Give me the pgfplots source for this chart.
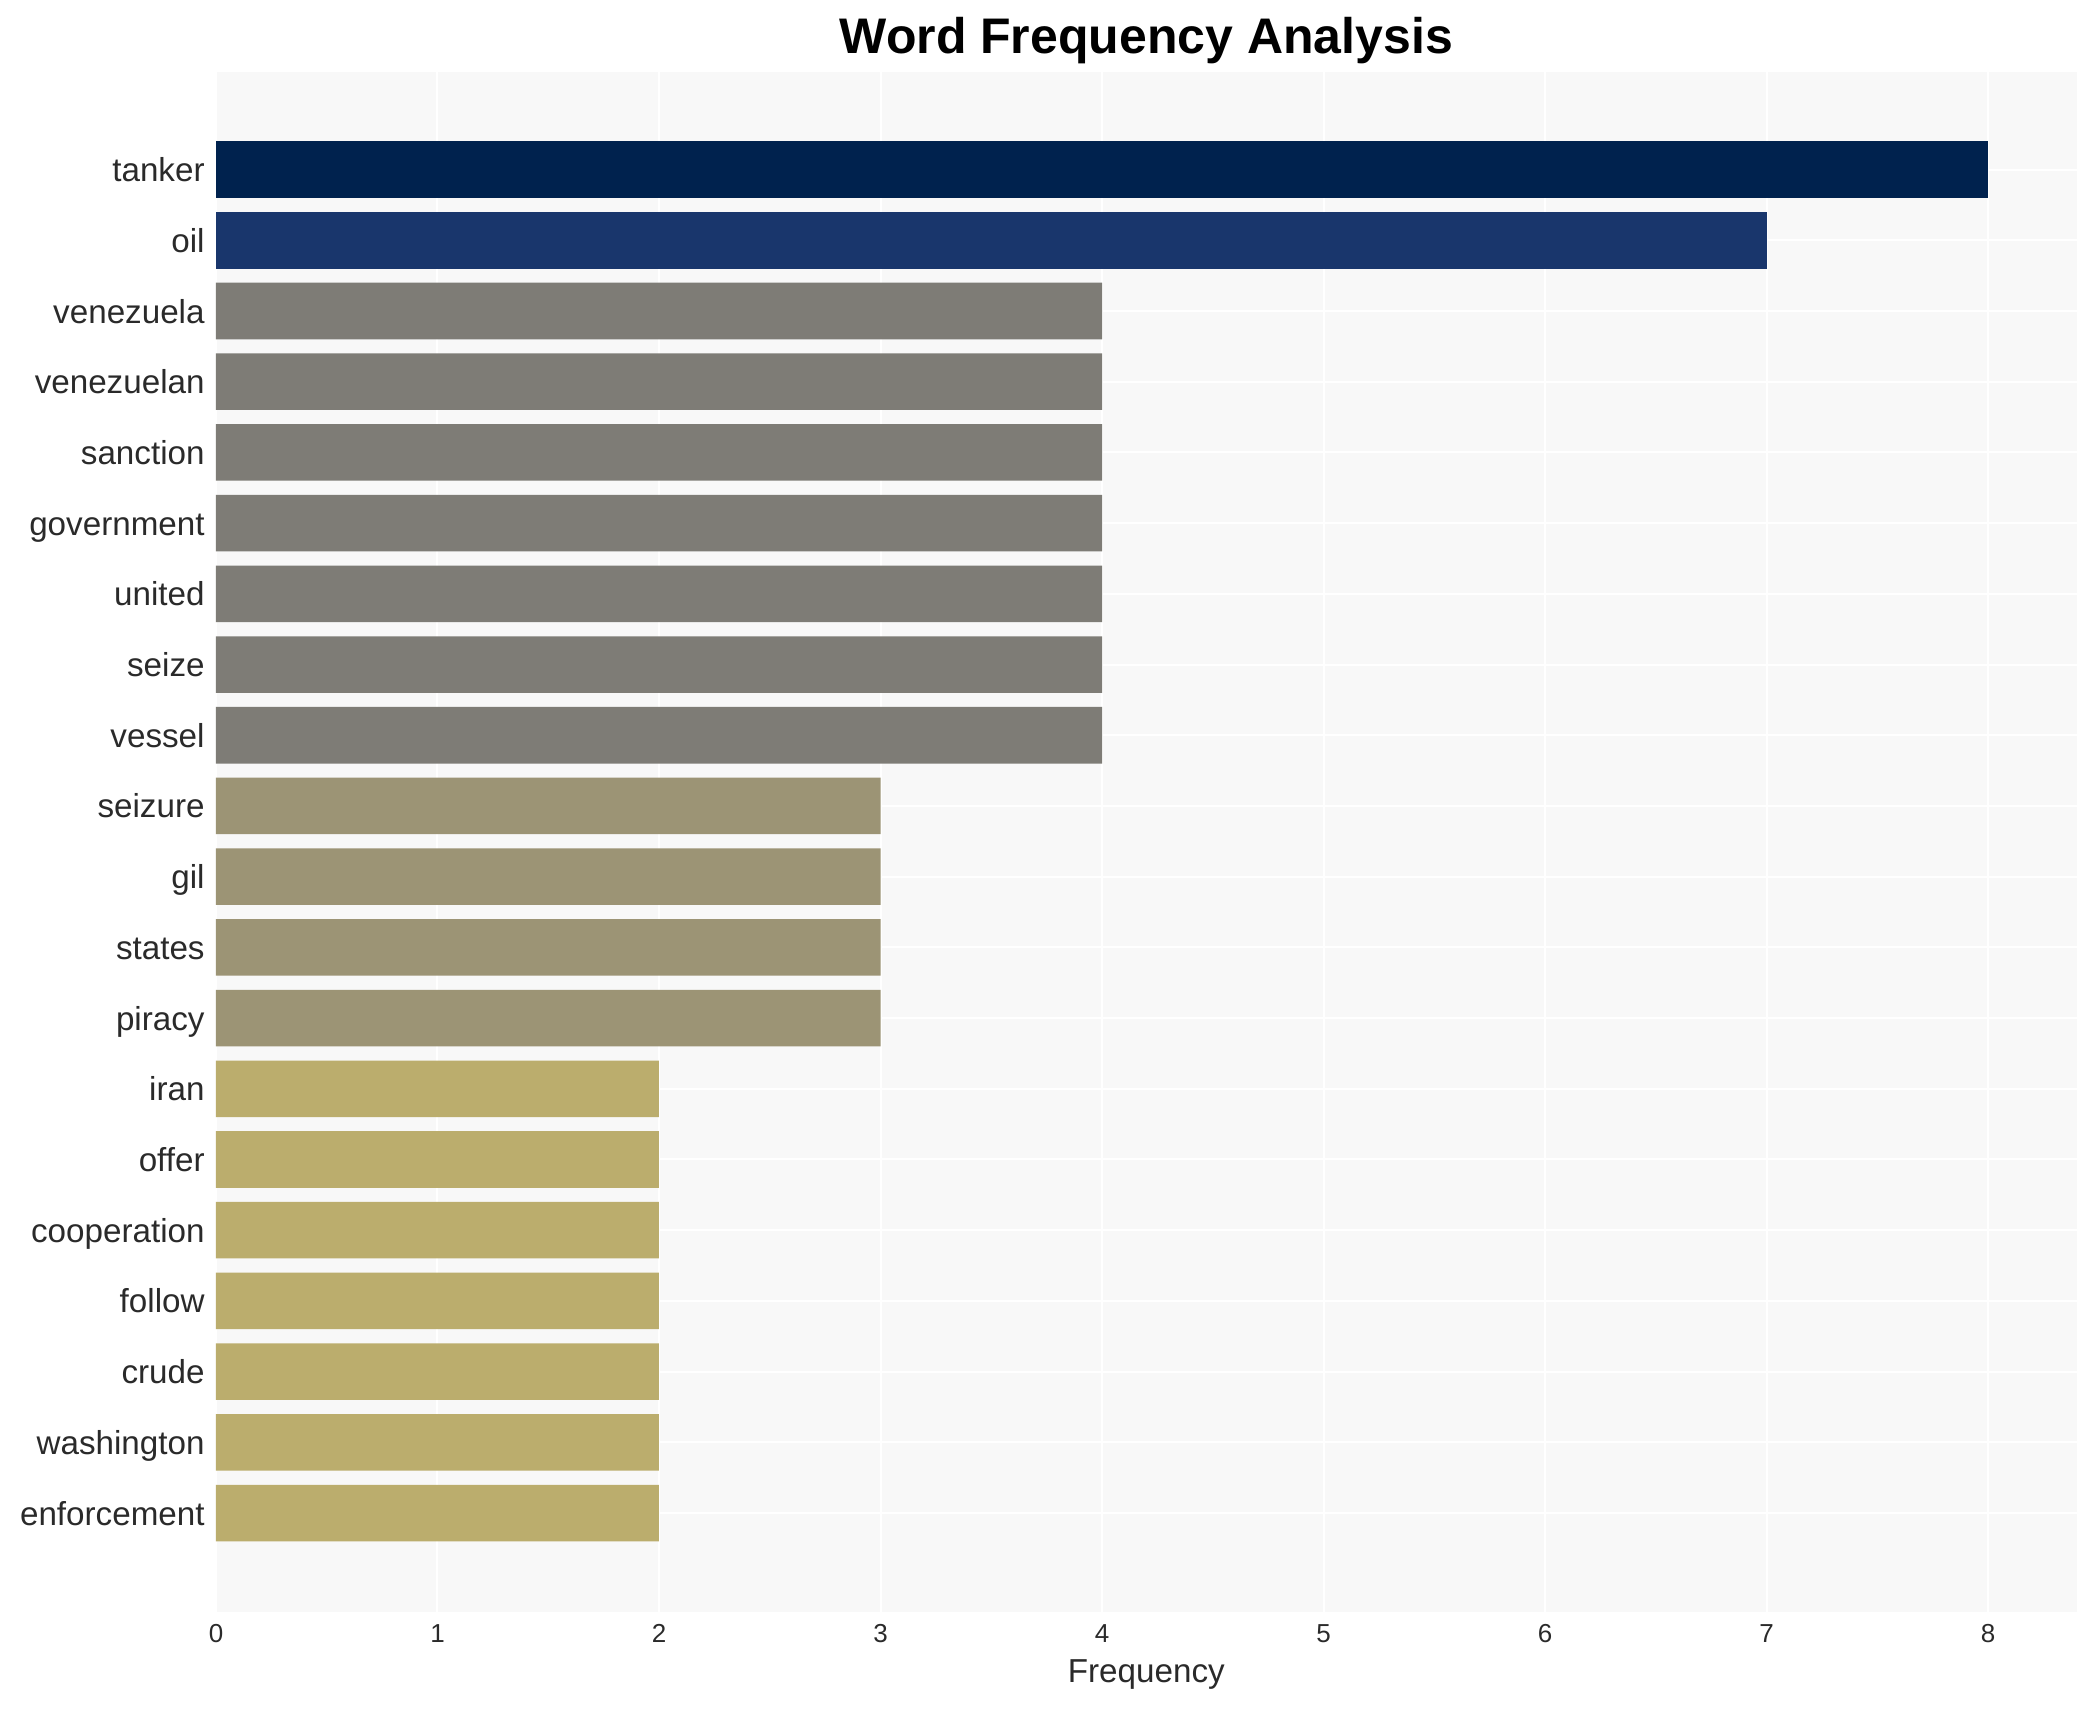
\documentclass[border=0pt]{standalone}
\usepackage{fontspec}
\setmainfont{Liberation Sans}
\usepackage{pgfplots}
\pgfplotsset{compat=1.18}

\definecolor{bgpanel}{RGB}{248,248,248}
\definecolor{txt}{RGB}{42,42,42}
\definecolor{cEight}{RGB}{0,34,78}
\definecolor{cSeven}{RGB}{25,54,108}
\definecolor{cFour}{RGB}{126,124,118}
\definecolor{cThree}{RGB}{156,148,117}
\definecolor{cTwo}{RGB}{187,173,109}

\begin{document}
\begin{tikzpicture}
\path[use as bounding box] (-108pt,-49pt) rectangle (939.5pt,806pt);
\begin{axis}[
    at={(0pt,0pt)}, anchor=south west,
    scale only axis, width=930.3pt, height=770pt,
    xbar, bar width=0.8,
    xmin=0, xmax=8.4,
    ymin=-1.38, ymax=20.40, y dir=reverse,
    axis background/.style={fill=bgpanel},
    axis line style={draw=none},
    major tick length=0pt,
    grid=major,
    major grid style={white, line width=1pt},
    xtick={0,1,...,8},
    ytick={0,1,...,19},
    yticklabels={tanker, oil, venezuela, venezuelan, sanction, government, united, seize, vessel, seizure, gil, states, piracy, iran, offer, cooperation, follow, crude, washington, enforcement},
    /pgf/number format/assume math mode=true,
    xticklabel style={font=\fontsize{13}{15}\selectfont, text=txt, anchor=base, yshift=-15pt, inner sep=0pt},
    yticklabel style={font=\fontsize{16.6}{19}\selectfont, text=txt, anchor=base east, xshift=-5.5pt, yshift=-6pt, inner sep=0pt},
    xlabel={Frequency},
    xlabel style={font=\fontsize{16.6}{19}\selectfont, text=txt, at={(axis description cs:0.5,0)}, anchor=base, yshift=-35pt, inner sep=0pt},
    title={Word Frequency Analysis},
    title style={font=\fontsize{25}{29}\selectfont\bfseries, at={(axis description cs:0.5,1)}, anchor=base, yshift=3.5pt, inner sep=0pt},
]
\addplot[draw=none, fill=cEight, bar shift=0pt] coordinates {(8,0)};
\addplot[draw=none, fill=cSeven, bar shift=0pt] coordinates {(7,1)};
\addplot[draw=none, fill=cFour, bar shift=0pt] coordinates {(4,2) (4,3) (4,4) (4,5) (4,6) (4,7) (4,8)};
\addplot[draw=none, fill=cThree, bar shift=0pt] coordinates {(3,9) (3,10) (3,11) (3,12)};
\addplot[draw=none, fill=cTwo, bar shift=0pt] coordinates {(2,13) (2,14) (2,15) (2,16) (2,17) (2,18) (2,19)};
\end{axis}
\end{tikzpicture}
\end{document}
